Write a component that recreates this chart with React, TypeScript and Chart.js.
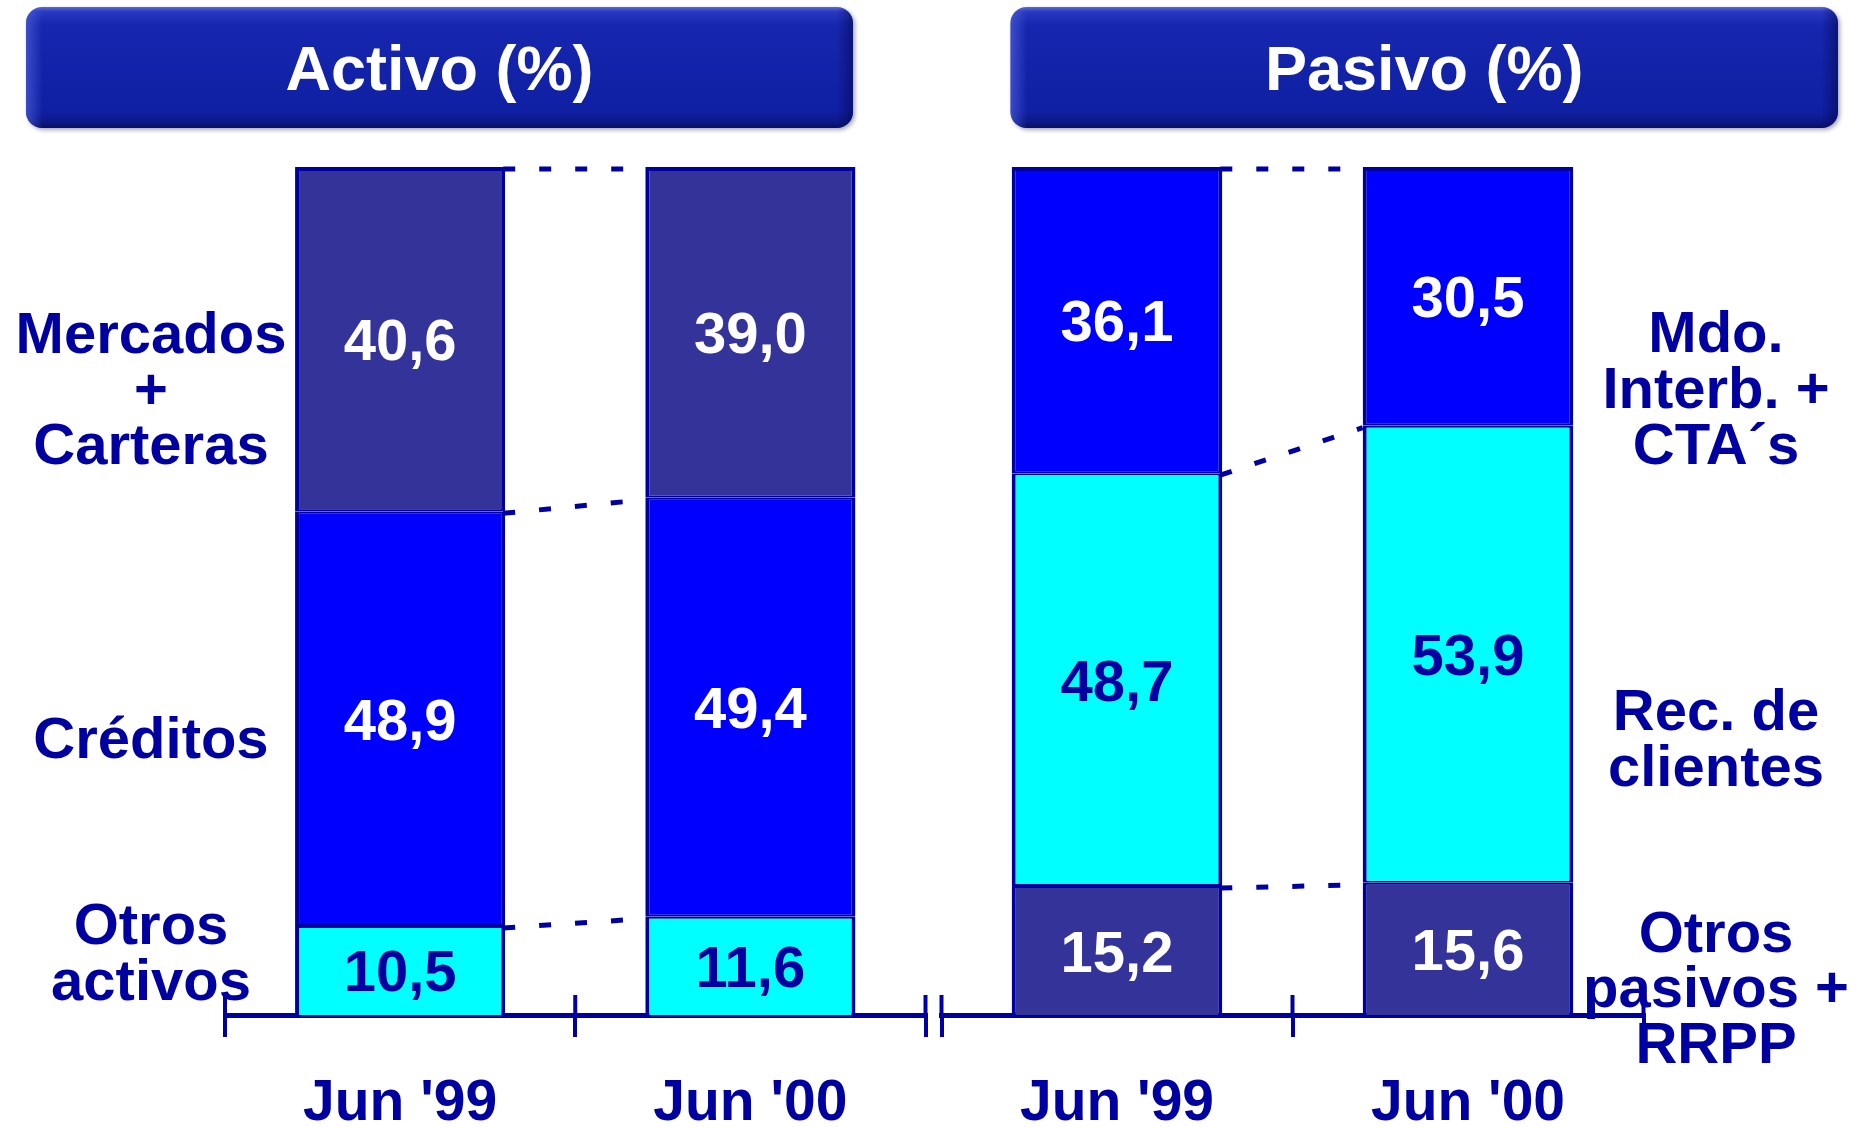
import React, { useEffect, useRef } from 'react';
import { Chart, registerables } from 'chart.js';

Chart.register(...registerables);

// ---------- DATA ----------
const categories = ["Jun '99", "Jun '00"];
const titles = ['Activo (%)', 'Pasivo (%)'];

const activoOtros = [10.5, 11.6];
const activoCreditos = [48.9, 49.4];
const activoMercados = [40.6, 39.0];
const activoNames = [['Otros', 'activos'], ['Créditos'], ['Mercados', '+', 'Carteras']];

const pasivoOtros = [15.2, 15.6];
const pasivoRecursos = [48.7, 53.9];
const pasivoInterb = [36.1, 30.5];
const pasivoNames = [['Otros', 'pasivos +', 'RRPP'], ['Rec. de', 'clientes'], ['Mdo.', 'Interb. +', 'CTA´s']];

// ---------- STYLE ----------
const NAVY = '#0000A0';
const SLATE = '#333399';
const BLUE = '#0000FF';
const CYAN = '#00FFFF';
const FONT = "'Liberation Sans', Arial, Helvetica, sans-serif";
const H = 1127;

type Series = { values: number[]; color: string; text: string; names: string[] };
type PanelCfg = {
  title: string;
  series: Series[];
  canvasLeft: number;
  canvasWidth: number;
  padLeft: number;
  padRight: number;
  titleBox: [number, number];
  labelX: number;
  labelY: number[][];
};

const panels: PanelCfg[] = [
  {
    title: titles[0],
    series: [
      { values: activoOtros, color: CYAN, text: NAVY, names: activoNames[0] },
      { values: activoCreditos, color: BLUE, text: '#FFFFFF', names: activoNames[1] },
      { values: activoMercados, color: SLATE, text: '#FFFFFF', names: activoNames[2] },
    ],
    canvasLeft: 0,
    canvasWidth: 933,
    padLeft: 225,
    padRight: 7.5,
    titleBox: [26, 853],
    labelX: 151,
    labelY: [[923, 979], [737], [332, 388, 443]],
  },
  {
    title: titles[1],
    series: [
      { values: pasivoOtros, color: SLATE, text: '#FFFFFF', names: pasivoNames[0] },
      { values: pasivoRecursos, color: CYAN, text: NAVY, names: pasivoNames[1] },
      { values: pasivoInterb, color: BLUE, text: '#FFFFFF', names: pasivoNames[2] },
    ],
    canvasLeft: 933,
    canvasWidth: 930,
    padLeft: 8.5,
    padRight: 219.5,
    titleBox: [77.5, 905],
    labelX: 783,
    labelY: [[931, 986, 1042], [709, 765], [331, 387, 443]],
  },
];

function roundRectPath(ctx: CanvasRenderingContext2D, x: number, y: number, w: number, h: number, r: number) {
  ctx.beginPath();
  ctx.moveTo(x + r, y);
  ctx.lineTo(x + w - r, y);
  ctx.arcTo(x + w, y, x + w, y + r, r);
  ctx.lineTo(x + w, y + h - r);
  ctx.arcTo(x + w, y + h, x + w - r, y + h, r);
  ctx.lineTo(x + r, y + h);
  ctx.arcTo(x, y + h, x, y + h - r, r);
  ctx.lineTo(x, y + r);
  ctx.arcTo(x, y, x + r, y, r);
  ctx.closePath();
}

function makePlugin(cfg: PanelCfg) {
  return {
    id: 'panelDecor',
    beforeDraw(chart: any) {
      const ctx: CanvasRenderingContext2D = chart.ctx;
      const [x0, x1] = cfg.titleBox;
      const y0 = 7;
      const y1 = 128;
      ctx.save();
      ctx.shadowColor = 'rgba(0,0,40,0.35)';
      ctx.shadowBlur = 4;
      ctx.shadowOffsetX = 2;
      ctx.shadowOffsetY = 2;
      const g = ctx.createLinearGradient(0, y0, 0, y1);
      g.addColorStop(0, '#5a6ad8');
      g.addColorStop(0.04, '#2838c0');
      g.addColorStop(0.15, '#1626ae');
      g.addColorStop(0.85, '#1020a4');
      g.addColorStop(0.95, '#0c1888');
      g.addColorStop(1, '#081060');
      ctx.fillStyle = g;
      roundRectPath(ctx, x0, y0, x1 - x0, y1 - y0, 16);
      ctx.fill();
      ctx.restore();

      // side shading
      ctx.save();
      roundRectPath(ctx, x0, y0, x1 - x0, y1 - y0, 16);
      ctx.clip();
      const gh = ctx.createLinearGradient(x0, 0, x1, 0);
      gh.addColorStop(0, 'rgba(90,110,230,0.55)');
      gh.addColorStop(0.02, 'rgba(90,110,230,0)');
      gh.addColorStop(0.98, 'rgba(0,0,60,0)');
      gh.addColorStop(1, 'rgba(0,0,60,0.45)');
      ctx.fillStyle = gh;
      ctx.fillRect(x0, y0, x1 - x0, y1 - y0);
      ctx.restore();

      ctx.save();
      ctx.fillStyle = '#FFFFFF';
      ctx.font = `bold 63px ${FONT}`;
      ctx.textAlign = 'center';
      ctx.textBaseline = 'alphabetic';
      ctx.fillText(cfg.title, (x0 + x1) / 2, 90);
      ctx.restore();
    },
    afterDatasetsDraw(chart: any) {
      const ctx: CanvasRenderingContext2D = chart.ctx;
      // dashed connectors between bars
      ctx.save();
      ctx.strokeStyle = NAVY;
      ctx.lineWidth = 5;
      ctx.setLineDash([12, 24]);
      chart.data.datasets.forEach((_: any, d: number) => {
        const meta = chart.getDatasetMeta(d);
        for (let i = 0; i < meta.data.length - 1; i++) {
          const a = meta.data[i].getProps(['x', 'y', 'width'], true);
          const b = meta.data[i + 1].getProps(['x', 'y', 'width'], true);
          ctx.beginPath();
          ctx.moveTo(a.x + a.width / 2 - 2, a.y + 2);
          ctx.lineTo(b.x - b.width / 2, b.y + 2);
          ctx.stroke();
        }
      });
      ctx.restore();

      // value labels
      ctx.save();
      ctx.font = `bold 58px ${FONT}`;
      ctx.textAlign = 'center';
      ctx.textBaseline = 'alphabetic';
      chart.data.datasets.forEach((ds: any, d: number) => {
        const meta = chart.getDatasetMeta(d);
        meta.data.forEach((el: any, i: number) => {
          const p = el.getProps(['x', 'y', 'base'], true);
          const v = ds.data[i] as number;
          ctx.fillStyle = cfg.series[d].text;
          ctx.fillText(v.toFixed(1).replace('.', ','), p.x, (p.y + p.base) / 2 + 21);
        });
      });
      ctx.restore();
    },
    afterDraw(chart: any) {
      const ctx: CanvasRenderingContext2D = chart.ctx;
      const area = chart.chartArea;
      const xs = chart.scales.x;
      const p0 = xs.getPixelForValue(0);
      const p1 = xs.getPixelForValue(1);
      const tickXs = [area.left, (p0 + p1) / 2, area.right];
      ctx.save();
      ctx.strokeStyle = NAVY;
      ctx.lineWidth = 4;
      tickXs.forEach((x) => {
        ctx.beginPath();
        ctx.moveTo(x, area.bottom - 20);
        ctx.lineTo(x, area.bottom);
        ctx.stroke();
      });
      ctx.restore();

      // series names
      ctx.save();
      ctx.fillStyle = NAVY;
      ctx.font = `bold 58px ${FONT}`;
      ctx.textAlign = 'center';
      ctx.textBaseline = 'alphabetic';
      cfg.series.forEach((s, d) => {
        s.names.forEach((line, k) => {
          ctx.fillText(line, cfg.labelX, cfg.labelY[d][k] + 21);
        });
      });
      ctx.restore();
    },
  };
}

function PanelChart({ cfg }: { cfg: PanelCfg }) {
  const ref = useRef<HTMLCanvasElement>(null);
  useEffect(() => {
    const canvas = ref.current;
    if (!canvas) return;
    const n = cfg.series.length;
    const chart = new Chart(canvas, {
      type: 'bar',
      data: {
        labels: categories,
        datasets: cfg.series.map((s, d) => ({
          label: s.names.join(' '),
          data: s.values,
          backgroundColor: s.color,
          borderColor: NAVY,
          borderSkipped: false,
          borderWidth: {
            top: d === n - 1 ? 4 : 2,
            bottom: d === 0 ? 0 : 2,
            left: 4,
            right: 4,
          },
          barPercentage: 0.6,
          categoryPercentage: 1,
        })),
      },
      options: {
        responsive: false,
        animation: false,
        devicePixelRatio: 1,
        events: [],
        layout: { padding: { left: cfg.padLeft, right: cfg.padRight, top: 167, bottom: 0 } },
        plugins: { legend: { display: false }, tooltip: { enabled: false } },
        scales: {
          x: {
            stacked: true,
            offset: true,
            grid: {
              offset: true,
              drawOnChartArea: false,
              drawTicks: true,
              tickLength: 22,
              color: NAVY,
              lineWidth: 4,
            },
            border: { display: true, color: NAVY, width: 5 },
            ticks: {
              color: NAVY,
              font: { family: FONT, size: 57, weight: 'bold' },
              padding: 33,
              autoSkip: false,
              maxRotation: 0,
            },
            afterFit: (s: any) => {
              s.height = 112;
            },
          },
          y: { stacked: true, display: false, min: 0, max: 100 },
        },
      } as any,
      plugins: [makePlugin(cfg)],
    });
    return () => chart.destroy();
  }, [cfg]);
  return (
    <canvas
      ref={ref}
      width={cfg.canvasWidth}
      height={H}
      style={{ position: 'absolute', left: cfg.canvasLeft, top: 0, width: cfg.canvasWidth, height: H }}
    />
  );
}

export default function App() {
  return (
    <div style={{ position: 'absolute', left: 0, top: 0, width: 1863, height: H, background: '#FFFFFF', overflow: 'hidden' }}>
      {panels.map((p, i) => (
        <PanelChart key={i} cfg={p} />
      ))}
    </div>
  );
}
